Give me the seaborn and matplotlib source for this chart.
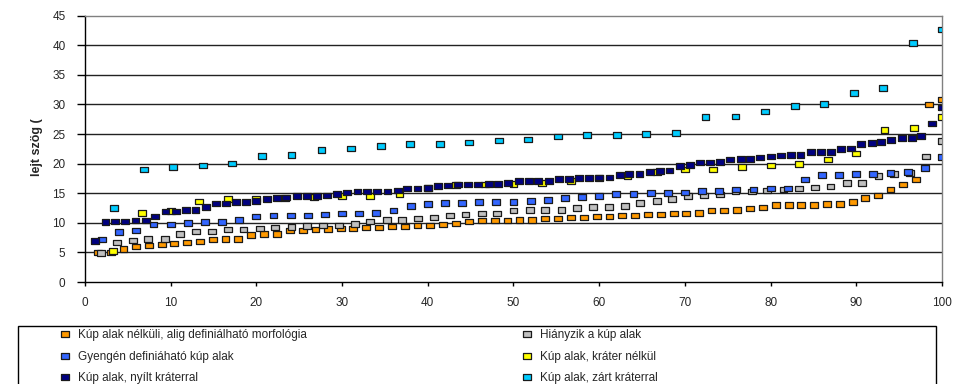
import numpy as np
import pandas as pd
import seaborn as sns
import matplotlib.pyplot as plt
from matplotlib.patches import Rectangle

# sorozatok (legend order as in the original chart)
LABELS = ['Kúp alak nélküli, alig definiálható morfológia',
          'Hiányzik a kúp alak',
          'Gyengén definiáható kúp alak',
          'Kúp alak, kráter nélkül',
          'Kúp alak, nyílt kráterral',
          'Kúp alak, zárt kráterral']
COLORS = ['#FF9900', '#C0C0C0', '#3366FF', '#FFFF00', '#000080', '#00CCFF']

orange_x = [1.5, 3.0, 4.5, 6.0, 7.5, 9.0, 10.4, 11.9, 13.4, 14.9, 16.4, 17.9, 19.4, 20.9,
            22.4, 23.9, 25.4, 26.9, 28.4, 29.9, 31.3, 32.8, 34.3, 35.8, 37.3, 38.8, 40.3,
            41.8, 43.3, 44.8, 46.3, 47.8, 49.3, 50.7, 52.2, 53.7, 55.2, 56.7, 58.2, 59.7,
            61.2, 62.7, 64.2, 65.7, 67.2, 68.7, 70.1, 71.6, 73.1, 74.6, 76.1, 77.6, 79.1,
            80.6, 82.1, 83.6, 85.1, 86.6, 88.1, 89.6, 91.0, 92.5, 94.0, 95.5, 97.0, 98.5, 100.0]
orange_y = [5.0, 5.0, 5.6, 6.0, 6.15, 6.3, 6.5, 6.65, 6.87, 7.15, 7.3, 7.3, 7.95, 8.1,
            8.1, 8.7, 8.7, 8.9, 8.95, 9.07, 9.07, 9.24, 9.24, 9.4, 9.4, 9.58, 9.58,
            9.75, 9.9, 10.25, 10.37, 10.37, 10.37, 10.5, 10.5, 10.7, 10.7, 10.87, 10.87, 11.05,
            11.05, 11.2, 11.2, 11.4, 11.4, 11.55, 11.55, 11.7, 12.05, 12.05, 12.2, 12.4, 12.56,
            13.0, 13.0, 13.0, 13.0, 13.2, 13.2, 13.5, 14.2, 14.65, 15.6, 16.45, 17.3, 30.0, 30.8]

gray_x = [1.9, 3.7, 5.6, 7.4, 9.3, 11.1, 13.0, 14.8, 16.7, 18.5, 20.4, 22.2, 24.1, 25.9,
          27.8, 29.6, 31.5, 33.3, 35.2, 37.0, 38.9, 40.7, 42.6, 44.4, 46.3, 48.1, 50.0,
          51.9, 53.7, 55.6, 57.4, 59.3, 61.1, 63.0, 64.8, 66.7, 68.5, 70.4, 72.2, 74.1,
          75.9, 77.8, 79.6, 81.5, 83.3, 85.2, 87.0, 88.9, 90.7, 92.6, 94.4, 96.3, 98.1, 100.0]
gray_y = [4.9, 6.65, 7.0, 7.3, 7.3, 8.1, 8.5, 8.5, 8.9, 8.9, 9.07, 9.24, 9.3, 9.46,
          9.58, 9.58, 9.8, 10.25, 10.5, 10.5, 10.7, 10.9, 11.2, 11.4, 11.55, 11.55, 12.05,
          12.2, 12.2, 12.2, 12.5, 12.7, 12.7, 12.85, 13.35, 13.7, 14.0, 14.5, 14.65, 14.8,
          15.3, 15.3, 15.5, 15.65, 15.8, 15.95, 16.1, 16.7, 16.7, 17.9, 18.25, 18.4, 21.2, 23.8]

blue_x = [2, 4, 6, 8, 10, 12, 14, 16, 18, 20, 22, 24, 26, 28, 30, 32, 34, 36, 38, 40,
          42, 44, 46, 48, 50, 52, 54, 56, 58, 60, 62, 64, 66, 68, 70, 72, 74, 76, 78, 80,
          82, 84, 86, 88, 90, 92, 94, 96, 98, 100]
blue_y = [7.2, 8.45, 8.7, 9.75, 9.75, 9.97, 10.1, 10.1, 10.5, 11.05, 11.2, 11.2, 11.2, 11.4,
          11.55, 11.55, 11.7, 12.05, 12.85, 13.2, 13.35, 13.35, 13.5, 13.5, 13.5, 13.7, 13.85,
          14.2, 14.35, 14.5, 14.9, 14.9, 15.0, 15.0, 15.15, 15.4, 15.4, 15.65, 15.65, 15.8,
          15.8, 17.3, 18.1, 18.1, 18.25, 18.25, 18.4, 18.6, 19.25, 21.1]

yellow_x = [3.3, 6.7, 10.0, 13.3, 16.7, 20.0, 23.3, 26.7, 30.0, 33.3, 36.7, 40.0, 43.3, 46.7,
            50.0, 53.3, 56.7, 60.0, 63.3, 66.7, 70.0, 73.3, 76.7, 80.0, 83.3, 86.7, 90.0,
            93.3, 96.7, 100.0]
yellow_y = [5.2, 11.7, 12.0, 13.6, 14.0, 14.0, 14.2, 14.4, 14.5, 14.5, 14.8, 15.9, 16.4, 16.45,
            16.6, 16.7, 17.1, 17.6, 17.9, 18.6, 19.0, 19.0, 19.4, 19.7, 19.9, 20.7, 21.7,
            25.7, 26.0, 27.9]

navy_x = [1.2, 2.4, 3.5, 4.7, 5.9, 7.1, 8.2, 9.4, 10.6, 11.8, 12.9, 14.1, 15.3, 16.5, 17.6,
          18.8, 20.0, 21.2, 22.4, 23.5, 24.7, 25.9, 27.1, 28.2, 29.4, 30.6, 31.8, 32.9, 34.1,
          35.3, 36.5, 37.6, 38.8, 40.0, 41.2, 42.4, 43.5, 44.7, 45.9, 47.1, 48.2, 49.4, 50.6,
          51.8, 52.9, 54.1, 55.3, 56.5, 57.6, 58.8, 60.0, 61.2, 62.4, 63.5, 64.7, 65.9, 67.1,
          68.2, 69.4, 70.6, 71.8, 72.9, 74.1, 75.3, 76.5, 77.6, 78.8, 80.0, 81.2, 82.4, 83.5,
          84.7, 85.9, 87.1, 88.2, 89.4, 90.6, 91.8, 92.9, 94.1, 95.3, 96.5, 97.6, 98.8, 100.0]
navy_y = [6.9, 10.1, 10.25, 10.25, 10.4, 10.4, 11.1, 11.9, 11.9, 12.2, 12.2, 12.7, 13.3, 13.3,
          13.5, 13.5, 13.7, 14.0, 14.2, 14.3, 14.5, 14.5, 14.5, 14.65, 14.9, 15.15, 15.3, 15.3,
          15.3, 15.3, 15.5, 15.8, 15.8, 15.9, 16.2, 16.3, 16.45, 16.45, 16.45, 16.6, 16.6, 16.7,
          17.1, 17.1, 17.1, 17.1, 17.4, 17.4, 17.6, 17.6, 17.7, 17.7, 18.1, 18.25, 18.25, 18.6,
          18.75, 18.85, 19.6, 19.8, 20.2, 20.2, 20.3, 20.7, 20.8, 20.8, 21.0, 21.2, 21.35, 21.45,
          21.45, 21.96, 21.96, 21.96, 22.5, 22.6, 23.3, 23.5, 23.65, 24.0, 24.3, 24.3, 24.7,
          26.75, 29.5]

cyan_x = [3.4, 6.9, 10.3, 13.8, 17.2, 20.7, 24.1, 27.6, 31.0, 34.5, 37.9, 41.4, 44.8, 48.3,
          51.7, 55.2, 58.6, 62.1, 65.5, 69.0, 72.4, 75.9, 79.3, 82.8, 86.2, 89.7, 93.1, 96.6, 100.0]
cyan_y = [12.5, 19.0, 19.4, 19.7, 20.0, 21.3, 21.5, 22.3, 22.6, 23.0, 23.3, 23.3, 23.6, 23.9,
          24.1, 24.6, 24.8, 24.8, 25.0, 25.2, 27.9, 28.0, 28.8, 29.7, 30.1, 31.9, 32.8, 40.4, 42.7]

XTICKS = [0, 10, 20, 30, 40, 50, 60, 70, 80, 90, 100]
YTICKS = [0, 5, 10, 15, 20, 25, 30, 35, 40, 45]

series = [(orange_x, orange_y), (gray_x, gray_y), (blue_x, blue_y),
          (yellow_x, yellow_y), (navy_x, navy_y), (cyan_x, cyan_y)]
df = pd.concat([pd.DataFrame({'x': sx, 'y': sy, 'sorozat': lab})
                for (sx, sy), lab in zip(series, LABELS)], ignore_index=True)

sns.set_theme(style='white')
plt.rcParams['font.family'] = ['Liberation Sans', 'DejaVu Sans']

fig = plt.figure(figsize=(9.57, 3.84), dpi=100)
ax = fig.add_axes([0.0888, 0.2656, 0.8955, 0.6935])

# flat rectangle marker like the Excel squares
rect = [(-1, -0.7), (1, -0.7), (1, 0.7), (-1, 0.7), (-1, -0.7)]
sns.scatterplot(data=df, x='x', y='y', hue='sorozat', hue_order=LABELS,
                palette=COLORS, marker=rect, s=32, edgecolor='#1a1a1a',
                linewidth=0.9, ax=ax, zorder=3)

ax.set_xlim(0, 100)
ax.set_ylim(0, 45)
ax.set_xticks(XTICKS)
ax.set_yticks(YTICKS)
ax.set_xlabel('')
ax.set_ylabel('lejt szög (', fontsize=9, fontweight='bold')
ax.yaxis.set_label_coords(-0.049, 0.507)

for yv in YTICKS[1:-1]:
    ax.axhline(yv, color='#222222', lw=1.0, zorder=1)

for s in ['left', 'bottom']:
    ax.spines[s].set_color('black')
    ax.spines[s].set_linewidth(1.0)
for s in ['top', 'right']:
    ax.spines[s].set_color('#808080')
    ax.spines[s].set_linewidth(1.0)

ax.tick_params(axis='x', direction='out', length=3, width=1, color='black',
               labelsize=8.5, pad=8, bottom=True)
ax.tick_params(axis='y', direction='out', length=6, width=1, color='black',
               labelsize=8.5, pad=8, left=True)

handles, labels = ax.get_legend_handles_labels()
ax.get_legend().remove()

# legend box (runs past the bottom edge, as in the original)
fig.patches.append(Rectangle((0.0188, -0.05), 0.9594, 0.201, transform=fig.transFigure,
                             fill=False, edgecolor='black', lw=1.0))

left_idx = [0, 2, 4]
right_idx = [1, 3, 5]
for idx, xpos in [(left_idx, 0.0622), (right_idx, 0.5447)]:
    fig.legend([handles[i] for i in idx], [labels[i] for i in idx],
               loc='upper left', bbox_to_anchor=(xpos, 0.1425), frameon=False,
               fontsize=8.5, borderpad=0, borderaxespad=0, handlelength=1.0,
               handletextpad=0.6, labelspacing=0.8, markerscale=1.0)

fig.savefig('out.png', dpi=100)
